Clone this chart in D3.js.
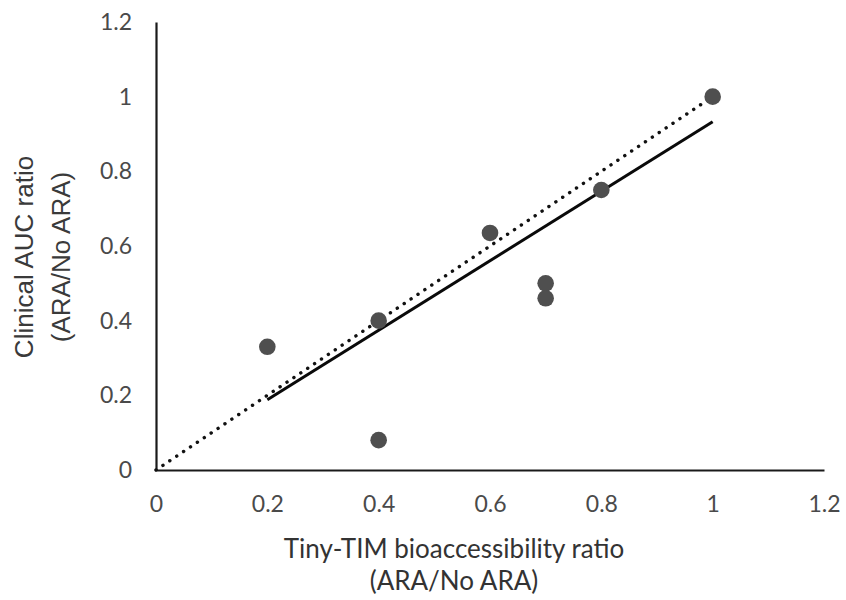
<!DOCTYPE html>
<html>
<head>
<meta charset="utf-8">
<script src="https://cdn.jsdelivr.net/npm/d3@7"></script>
<style>
  html, body { margin: 0; padding: 0; background: #fff; }
  svg { display: block; }
</style>
</head>
<body>
<svg id="chart" width="846" height="600"></svg>
<script>
// Observations: Tiny-TIM bioaccessibility ratio vs clinical AUC ratio (ARA / No ARA)
const bioaccessibility = [0.2, 0.4, 0.4, 0.6, 0.7, 0.7, 0.8, 1.0];
const clinicalAUC      = [0.33, 0.08, 0.40, 0.635, 0.50, 0.46, 0.75, 1.0];

// Linear trend line endpoints (x, y)
const trendX = [0.2, 1.0];
const trendY = [0.188, 0.933];

// Line of identity (y = x)
const identityX = [0, 1];
const identityY = [0, 1];

// Tick values for both axes
const xTicks = [0, 0.2, 0.4, 0.6, 0.8, 1, 1.2];
const yTicks = [0, 0.2, 0.4, 0.6, 0.8, 1, 1.2];

const xTitle = ["Tiny-TIM bioaccessibility ratio", "(ARA/No ARA)"];
const yTitle = ["Clinical AUC ratio", "(ARA/No ARA)"];

const svg = d3.select("#chart");

const x = d3.scaleLinear().domain([0, 1.2]).range([156, 824]);
const y = d3.scaleLinear().domain([0, 1.2]).range([470, 22]);

const tickFont = "Lato, 'Open Sans', sans-serif";
const tickColor = "#4a4a4a";

// X axis
const xAxis = svg.append("g")
  .attr("transform", `translate(0,${y(0)})`)
  .call(d3.axisBottom(x).tickValues(xTicks).tickSize(0).tickPadding(26)
    .tickFormat(d => d3.format("~g")(d)));
xAxis.select(".domain").attr("stroke", "#1a1a1a").attr("stroke-width", 2.2);
xAxis.selectAll("text")
  .attr("font-family", tickFont).attr("font-size", 23).attr("fill", tickColor);

// Y axis
const yAxis = svg.append("g")
  .attr("transform", `translate(${x(0)},0)`)
  .call(d3.axisLeft(y).tickValues(yTicks).tickSize(0).tickPadding(24)
    .tickFormat(d => d3.format("~g")(d)));
yAxis.select(".domain").attr("stroke", "#1a1a1a").attr("stroke-width", 2.2);
yAxis.selectAll("text")
  .attr("font-family", tickFont).attr("font-size", 23).attr("fill", tickColor);

// Line of identity, dotted
const line = d3.line().x(d => x(d[0])).y(d => y(d[1]));
svg.append("path")
  .datum(d3.zip(identityX, identityY))
  .attr("d", line)
  .attr("fill", "none")
  .attr("stroke", "#111")
  .attr("stroke-width", 3.4)
  .attr("stroke-linecap", "round")
  .attr("stroke-dasharray", "0.1 8.2");

// Trend line, solid
svg.append("path")
  .datum(d3.zip(trendX, trendY))
  .attr("d", line)
  .attr("fill", "none")
  .attr("stroke", "#0a0a0a")
  .attr("stroke-width", 3);

// Data points
svg.append("g")
  .selectAll("circle")
  .data(d3.zip(bioaccessibility, clinicalAUC))
  .join("circle")
  .attr("cx", d => x(d[0]))
  .attr("cy", d => y(d[1]))
  .attr("r", 8.3)
  .attr("fill", "#4f4f4f");

// X axis title
const xt = svg.append("text")
  .attr("font-family", tickFont)
  .attr("font-size", 26)
  .attr("fill", "#333")
  .attr("text-anchor", "middle");
xt.selectAll("tspan").data(xTitle).join("tspan")
  .attr("x", 454)
  .attr("y", (d, i) => 558 + i * 32)
  .text(d => d);

// Y axis title
const yt = svg.append("text")
  .attr("font-family", "'Liberation Sans', Arial, sans-serif")
  .attr("font-size", 26)
  .attr("fill", "#3a3a3a")
  .attr("text-anchor", "middle")
  .attr("transform", "translate(0,257) rotate(-90)");
yt.selectAll("tspan").data(yTitle).join("tspan")
  .attr("x", 0)
  .attr("y", (d, i) => 33 + i * 37)
  .text(d => d);
</script>
</body>
</html>
